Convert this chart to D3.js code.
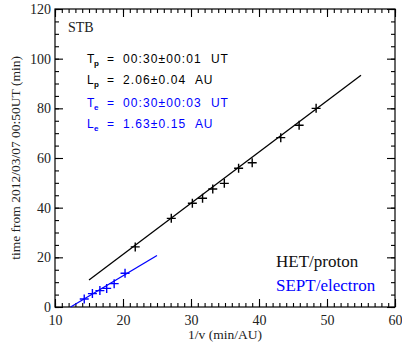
<!DOCTYPE html>
<html>
<head>
<meta charset="utf-8">
<script src="https://cdn.jsdelivr.net/npm/d3@7"></script>
<style>
  body { margin: 0; background: #fff; }
  svg { display: block; }
</style>
</head>
<body>
<svg id="chart" width="402" height="343"></svg>
<script>
// proton (HET) onsets: 1/v (min/AU) vs time from 00:50 UT (min)
var protonX = [21.8, 27.1, 30.2, 31.7, 33.2, 34.9, 37.0, 39.0, 43.2, 45.9, 48.4];
var protonY = [24.2, 35.7, 41.8, 43.8, 47.5, 49.8, 55.9, 58.1, 68.2, 73.2, 80.0];

// electron (SEPT) onsets
var electronX = [14.3, 15.5, 16.6, 17.6, 18.7, 20.3];
var electronY = [3.2, 5.4, 6.6, 7.5, 9.4, 13.6];

// fit line end points
var protonFitX = [15, 55];
var protonFitY = [10.9, 93.3];
var electronFitX = [12.3, 25];
var electronFitY = [0, 20.75];

var xTicks = [10, 20, 30, 40, 50, 60];
var yTicks = [0, 20, 40, 60, 80, 100, 120];

var svg = d3.select("#chart");

// plot box
var margin = { top: 9, right: 7, bottom: 36, left: 55 },
    width = 402 - margin.left - margin.right,
    height = 343 - margin.top - margin.bottom;

var x = d3.scaleLinear().domain([10, 60]).range([margin.left, margin.left + width]);
var y = d3.scaleLinear().domain([0, 120]).range([margin.top + height, margin.top]);

var serif = "'Liberation Serif', 'Times New Roman', serif";
var sans = "'Liberation Sans', Arial, sans-serif";

function styleAxis(g) {
    g.select(".domain").remove();
    g.selectAll("line").attr("stroke", "#000").attr("stroke-width", 1.1);
    g.selectAll("text").attr("font-family", serif).attr("font-size", "14px").attr("fill", "#222");
}

var minorX = d3.range(10, 61, 1);
var minorY = d3.range(0, 121, 5);

// bottom axis
svg.append("g")
    .attr("transform", "translate(0," + (margin.top + height) + ")")
    .call(d3.axisBottom(x).tickValues(minorX).tickSize(-4).tickFormat(""))
    .call(styleAxis);
svg.append("g")
    .attr("transform", "translate(0," + (margin.top + height) + ")")
    .call(d3.axisBottom(x).tickValues(xTicks).tickSize(-8).tickPadding(8.5).tickFormat(d3.format("d")))
    .call(styleAxis);

// top axis
svg.append("g")
    .attr("transform", "translate(0," + margin.top + ")")
    .call(d3.axisTop(x).tickValues(minorX).tickSize(-4).tickFormat(""))
    .call(styleAxis);
svg.append("g")
    .attr("transform", "translate(0," + margin.top + ")")
    .call(d3.axisTop(x).tickValues(xTicks).tickSize(-8).tickFormat(""))
    .call(styleAxis);

// left axis
svg.append("g")
    .attr("transform", "translate(" + margin.left + ",0)")
    .call(d3.axisLeft(y).tickValues(minorY).tickSize(-4).tickFormat(""))
    .call(styleAxis);
svg.append("g")
    .attr("transform", "translate(" + margin.left + ",0)")
    .call(d3.axisLeft(y).tickValues(yTicks).tickSize(-8).tickPadding(4).tickFormat(d3.format("d")))
    .call(styleAxis);

// right axis
svg.append("g")
    .attr("transform", "translate(" + (margin.left + width) + ",0)")
    .call(d3.axisRight(y).tickValues(minorY).tickSize(-4).tickFormat(""))
    .call(styleAxis);
svg.append("g")
    .attr("transform", "translate(" + (margin.left + width) + ",0)")
    .call(d3.axisRight(y).tickValues(yTicks).tickSize(-8).tickFormat(""))
    .call(styleAxis);

// frame
svg.append("rect")
    .attr("x", margin.left)
    .attr("y", margin.top)
    .attr("width", width)
    .attr("height", height)
    .attr("fill", "none")
    .attr("stroke", "#000")
    .attr("stroke-width", 1.2);

// axis titles
svg.append("text")
    .attr("x", margin.left + width / 2)
    .attr("y", 339)
    .attr("text-anchor", "middle")
    .attr("font-family", serif)
    .attr("font-size", "13.5px")
    .attr("fill", "#222")
    .text("1/v (min/AU)");

svg.append("text")
    .attr("transform", "translate(20," + (margin.top + height / 2) + ") rotate(-90)")
    .attr("text-anchor", "middle")
    .attr("font-family", serif)
    .attr("font-size", "13.5px")
    .attr("fill", "#222")
    .text("time from 2012/03/07 00:50UT (min)");

// fit lines
var line = d3.line()
    .x(function (d) { return x(d[0]); })
    .y(function (d) { return y(d[1]); });

svg.append("path")
    .datum(d3.zip(protonFitX, protonFitY))
    .attr("fill", "none")
    .attr("stroke", "#000")
    .attr("stroke-width", 1.3)
    .attr("d", line);

svg.append("path")
    .datum(d3.zip(electronFitX, electronFitY))
    .attr("fill", "none")
    .attr("stroke", "#0000ff")
    .attr("stroke-width", 1.3)
    .attr("d", line);

// crosses
var cross = "M-4.5,0H4.5M0,-4.5V4.5";

svg.append("g").selectAll("path")
    .data(d3.zip(protonX, protonY))
    .join("path")
    .attr("transform", function (d) { return "translate(" + x(d[0]) + "," + y(d[1]) + ")"; })
    .attr("d", cross)
    .attr("stroke", "#000")
    .attr("stroke-width", 1.4);

svg.append("g").selectAll("path")
    .data(d3.zip(electronX, electronY))
    .join("path")
    .attr("transform", function (d) { return "translate(" + x(d[0]) + "," + y(d[1]) + ")"; })
    .attr("d", cross)
    .attr("stroke", "#0000ff")
    .attr("stroke-width", 1.4);

// station label
svg.append("text")
    .attr("x", 68)
    .attr("y", 32)
    .attr("font-family", serif)
    .attr("font-size", "14px")
    .attr("fill", "#222")
    .text("STB");

// fit results
var results = [
    { sym: "T", sub: "p", val: "00:30\u00b100:01", unit: "UT", color: "#000", y: 62.5, ux: 211 },
    { sym: "L", sub: "p", val: "2.06\u00b10.04", unit: "AU", color: "#000", y: 84, ux: 195 },
    { sym: "T", sub: "e", val: "00:30\u00b100:03", unit: "UT", color: "#0000ff", y: 107, ux: 211 },
    { sym: "L", sub: "e", val: "1.63\u00b10.15", unit: "AU", color: "#0000ff", y: 128, ux: 195 }
];

results.forEach(function (r) {
    var g = svg.append("g")
        .attr("font-family", sans)
        .attr("fill", r.color);
    g.append("text").attr("x", 87).attr("y", r.y)
        .attr("font-size", "12px").text(r.sym);
    g.append("text").attr("x", 94).attr("y", r.y + 3)
        .attr("font-size", "8px").attr("font-weight", "bold").text(r.sub);
    g.append("text").attr("x", 107).attr("y", r.y)
        .attr("font-size", "12px").text("=");
    g.append("text").attr("x", 123).attr("y", r.y)
        .attr("font-size", "12px").attr("letter-spacing", "1.1px").text(r.val);
    g.append("text").attr("x", r.ux).attr("y", r.y)
        .attr("font-size", "12px").attr("letter-spacing", "0.8px").text(r.unit);
});

// legend
svg.append("text")
    .attr("x", 276)
    .attr("y", 267)
    .attr("font-family", serif)
    .attr("font-size", "17px")
    .attr("fill", "#111")
    .text("HET/proton");

svg.append("text")
    .attr("x", 276)
    .attr("y", 291)
    .attr("font-family", serif)
    .attr("font-size", "17px")
    .attr("fill", "#0000ff")
    .text("SEPT/electron");
</script>
</body>
</html>
